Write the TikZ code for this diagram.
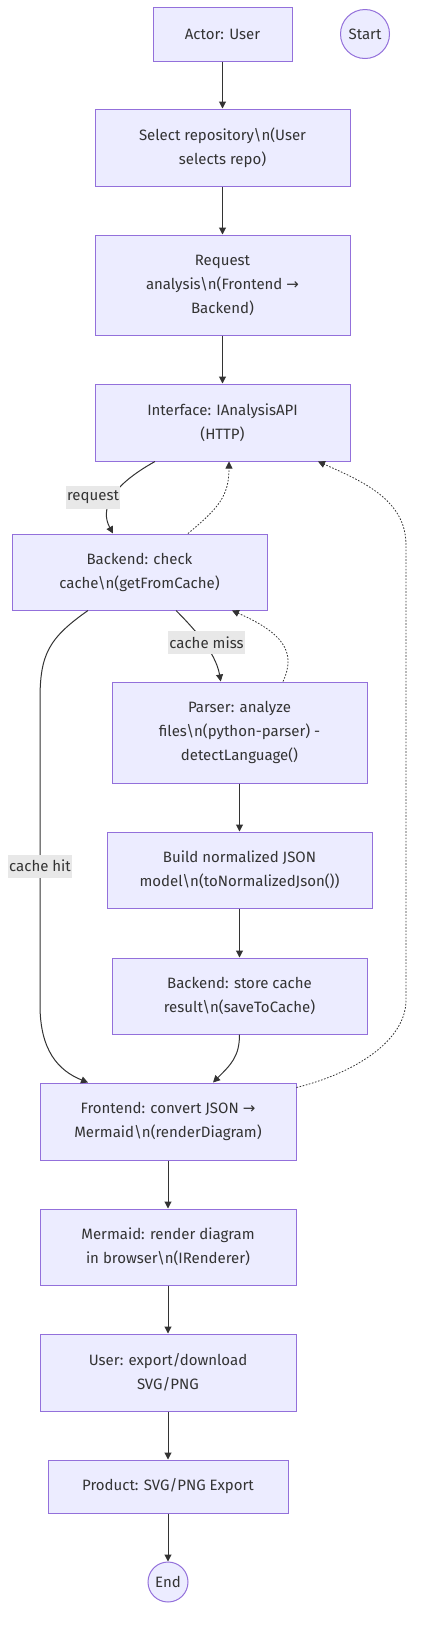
\documentclass[tikz,border=0pt]{standalone}
\usepackage{fontspec}
\setmainfont{Fira Sans}
\newfontfamily\arrowfont{DejaVu Sans}
\usetikzlibrary{arrows.meta}
\definecolor{nodefill}{HTML}{ECECFF}
\definecolor{nodeline}{HTML}{9370DB}
\definecolor{ink}{HTML}{333333}
\definecolor{lblfill}{HTML}{E8E8E8}
\newcommand{\nl}{\textbackslash n}
\newcommand{\rarr}{{\arrowfont →}}
\begin{document}
\begin{tikzpicture}[x=1pt,y=-1pt,
    >={Triangle[length=7pt,width=7pt]},
    txt/.style={text=ink, font=\fontsize{15}{24}\selectfont},
    proc/.style={txt, draw=nodeline, fill=nodefill, line width=1pt, align=center, inner sep=0pt},
    term/.style={txt, circle, draw=nodeline, fill=nodefill, line width=1pt, inner sep=0pt},
    link/.style={->, draw=ink, line width=1pt},
    retlink/.style={link, line width=0.8pt, dash pattern=on 1.6pt off 1.6pt},
    elabel/.style={txt, fill=lblfill, inner sep=1pt, minimum height=23pt}]
    \useasboundingbox (0,0) rectangle (422,1642);
    \node[proc, minimum width=139pt, minimum height=54pt] (actor) at (222.5,34) {Actor: User};
    \node[term, minimum size=49pt] (start) at (365,34) {Start};
    \node[proc, minimum width=255pt, minimum height=77pt] (select) at (222.5,147.5) {Select repository\nl(User\\selects repo)};
    \node[proc, minimum width=255pt, minimum height=100pt] (request) at (222.5,285) {Request\\analysis\nl(Frontend \rarr\\Backend)};
    \node[proc, minimum width=255pt, minimum height=77pt] (iface) at (222.5,422.5) {Interface: IAnalysisAPI\\(HTTP)};
    \node[proc, minimum width=255pt, minimum height=76pt] (check) at (139.5,572) {Backend: check\\cache\nl(getFromCache)};
    \node[proc, minimum width=255pt, minimum height=101pt] (parser) at (239.5,732.5) {Parser: analyze\\files\nl(python-parser) -\\detectLanguage()};
    \node[proc, minimum width=265pt, minimum height=76pt] (build) at (239.5,870) {Build normalized JSON\\model\nl(toNormalizedJson())};
    \node[proc, minimum width=255pt, minimum height=76pt] (store) at (239.5,996) {Backend: store cache\\result\nl(saveToCache)};
    \node[proc, minimum width=256pt, minimum height=77pt] (front) at (168,1121.5) {Frontend: convert JSON \rarr\\Mermaid\nl(renderDiagram)};
    \node[proc, minimum width=256pt, minimum height=76pt] (render) at (168,1247) {Mermaid: render diagram\\in browser\nl(IRenderer)};
    \node[proc, minimum width=256pt, minimum height=77pt] (export) at (168,1372.5) {User: export/download\\SVG/PNG};
    \node[proc, minimum width=240pt, minimum height=53pt] (product) at (168,1486.5) {Product: SVG/PNG Export};
    \node[term, minimum size=40pt] (end) at (168,1582) {End};
    % bends of the long connectors
    \coordinate (hit1) at (40,700);
    \coordinate (hit2) at (40,1005);
    \coordinate (back1) at (406,1000);
    \coordinate (back2) at (406,545);
    % main flow
    \draw[link] (actor) -- (select);
    \draw[link] (select) -- (request);
    \draw[link] (request) -- (iface);
    \draw[link] ([xshift=-67.5pt]iface.south) .. controls +(-45,25) and +(-13,-24) .. ([xshift=-26.5pt]check.north);
    \draw[retlink] ([xshift=48.5pt]check.north) .. controls +(30,-25) and +(0,35) .. ([xshift=6.5pt]iface.south);
    \draw[link] ([xshift=36.5pt]check.south) .. controls +(15,15) and +(-5,-30) .. ([xshift=-18.8pt]parser.north);
    \draw[retlink] ([xshift=43.5pt]parser.north) .. controls +(14,-30) and +(50,22) .. ([xshift=92.5pt]check.south);
    \draw[link] (parser) -- (build);
    \draw[link] (build) -- (store);
    \draw[link] (store.south) .. controls +(0,22) and +(18,-18) .. ([xshift=45pt]front.north);
    \draw[link] ([xshift=-51.5pt]check.south) .. controls +(-40,28) and +(0,-45) .. (hit1) -- (hit2) .. controls +(0,45) and +(-30,-12) .. ([xshift=-80pt]front.north);
    \draw[retlink] ([yshift=-5pt]front.north east) .. controls +(60,-15) and +(0,40) .. (back1) -- (back2) .. controls +(0,-45) and +(45,20) .. ([xshift=95.5pt]iface.south);
    \draw[link] (front) -- (render);
    \draw[link] (render) -- (export);
    \draw[link] (export) -- (product);
    \draw[link] (product) -- (end);
    % edge labels
    \node[elabel] (lrequest) at (93,497) {request};
    \node[elabel] (lmiss) at (206.5,642.5) {cache miss};
    \node[elabel] (lhit) at (40,866) {cache hit};
\end{tikzpicture}
\end{document}
